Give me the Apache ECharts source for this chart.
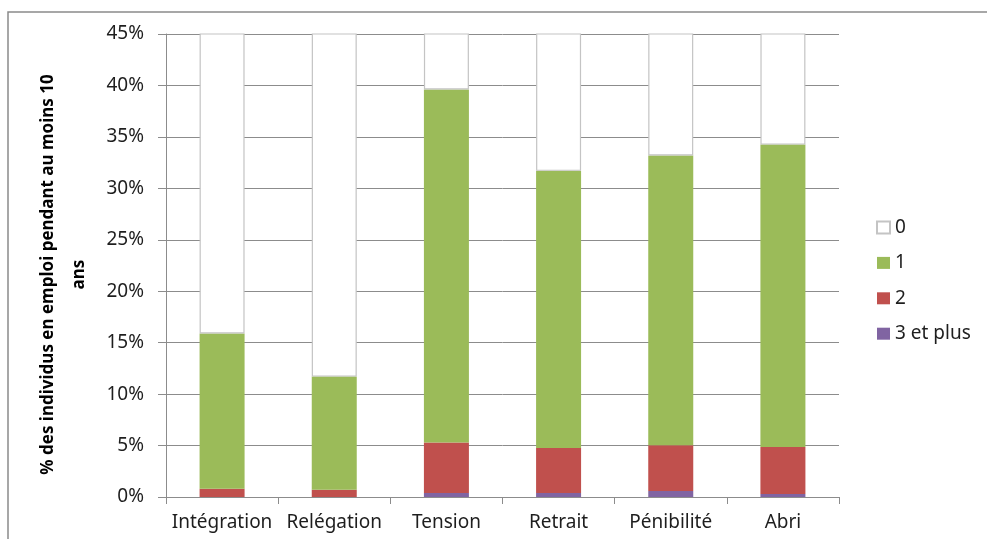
<!DOCTYPE html>
<html>
<head>
<meta charset="utf-8">
<script src="https://cdn.jsdelivr.net/npm/echarts@6/dist/echarts.min.js"></script>
<style>html,body{margin:0;padding:0;background:#fff}#c{width:987px;height:539px}</style>
</head>
<body>
<div id="c"></div>
<script>
const categories = ['Intégration', 'Relégation', 'Tension', 'Retrait', 'Pénibilité', 'Abri'];
const s3plus = [0, 0, 0.4, 0.4, 0.58, 0.29];
const s2 = [0.8, 0.7, 4.9, 4.36, 4.44, 4.57];
const s1 = [15.1, 11.0, 34.3, 26.94, 28.18, 29.39];
const s0 = [84.1, 88.3, 60.4, 68.3, 66.8, 65.75];
const yTicks = { min: 0, max: 45, interval: 5 };
const legendNames = ['0', '1', '2', '3 et plus'];
const yTitle = '% des individus en emploi pendant au moins 10\nans';

const FONT = 'Noto Sans';
const chart = echarts.init(document.getElementById('c'), null, { renderer: 'canvas' });
const barW = 45;
chart.setOption({
  animation: false,
  backgroundColor: '#fff',
  textStyle: { fontFamily: FONT },
  graphic: [{
    type: 'rect', silent: true,
    shape: { x: 8, y: 12, width: 1200, height: 700 },
    style: { fill: 'none', stroke: '#8a8a8a', lineWidth: 1.5 }
  }],
  grid: { left: 166, right: 148, top: 34, bottom: 42, containLabel: false },
  legend: {
    data: legendNames,
    orient: 'vertical',
    left: 871, top: 213,
    icon: 'rect',
    itemWidth: 13, itemHeight: 12, itemGap: 16.4, itemTextGap: 6,
    textStyle: { fontFamily: FONT, fontSize: 19, color: '#1e1e1e', lineHeight: 18 }
  },
  xAxis: {
    type: 'category',
    data: categories,
    axisLine: { lineStyle: { color: '#8c8c8c', width: 1 } },
    axisTick: { show: true, length: 7, alignWithLabel: false, lineStyle: { color: '#8c8c8c' } },
    axisLabel: { fontFamily: FONT, fontSize: 19, color: '#1e1e1e', margin: 16, interval: 0 },
    splitLine: { show: false }
  },
  yAxis: {
    type: 'value',
    min: yTicks.min, max: yTicks.max, interval: yTicks.interval,
    name: yTitle,
    nameLocation: 'middle',
    nameRotate: 90,
    nameGap: 71,
    nameTextStyle: { fontFamily: FONT, fontSize: 17, fontWeight: 'bold', color: '#000', lineHeight: 31, padding: [0, 18, 0, 0] },
    axisLine: { show: true, lineStyle: { color: '#8c8c8c', width: 1 } },
    axisTick: { show: true, length: 8, lineStyle: { color: '#8c8c8c' } },
    axisLabel: { fontFamily: FONT, fontSize: 19, color: '#1e1e1e', margin: 22, formatter: '{value}%' },
    splitLine: { show: true, lineStyle: { color: '#8c8c8c', width: 1 } }
  },
  series: [
    { name: '3 et plus', type: 'bar', stack: 't', barWidth: barW, data: s3plus, itemStyle: { color: '#8064A2' } },
    { name: '2', type: 'bar', stack: 't', barWidth: barW, data: s2, itemStyle: { color: '#C0504D' } },
    { name: '1', type: 'bar', stack: 't', barWidth: barW, data: s1, itemStyle: { color: '#9BBB59' } },
    { name: '0', type: 'bar', stack: 't', barWidth: barW, data: s0, itemStyle: { color: '#FFFFFF', borderColor: '#c4c4c4', borderWidth: 1.2 } }
  ]
});
</script>
</body>
</html>
